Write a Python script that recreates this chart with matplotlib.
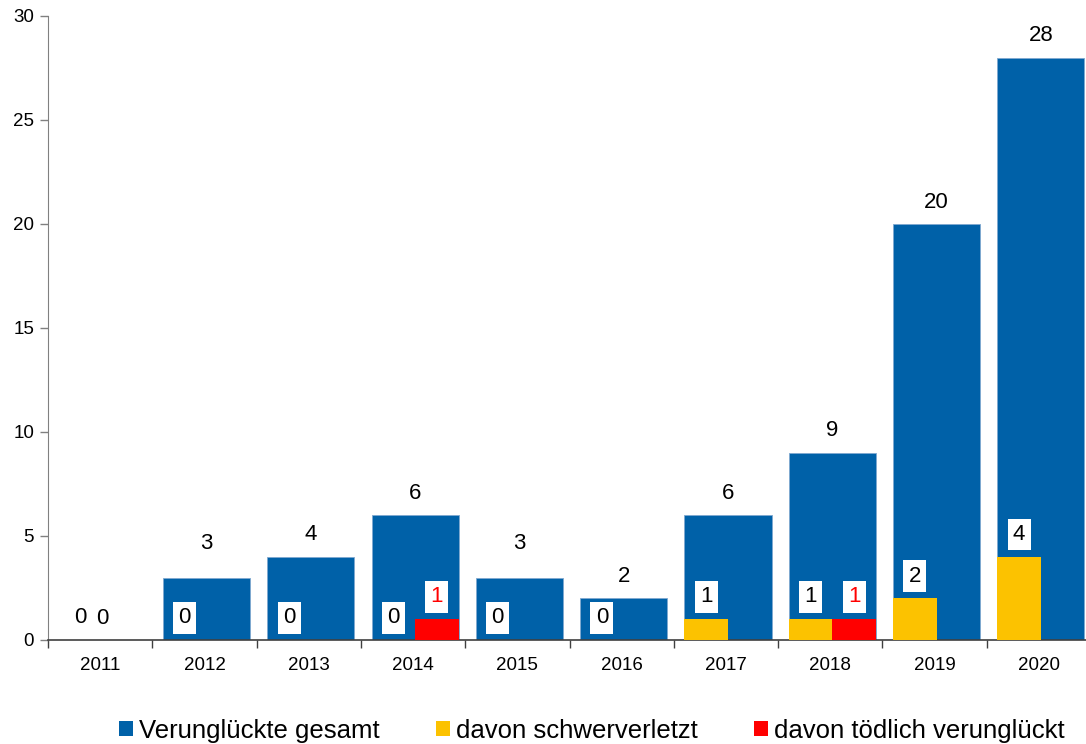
import matplotlib
matplotlib.use('Agg')
from matplotlib import pyplot as plt
from matplotlib.patches import Patch
import numpy as np

# Dados
anos = ['2011', '2012', '2013', '2014', '2015', '2016', '2017', '2018', '2019', '2020']
gesamt = [0, 3, 4, 6, 3, 2, 6, 9, 20, 28]
schwer = [0, 0, 0, 0, 0, 0, 1, 1, 2, 4]
toedlich = [0, 0, 0, 1, 0, 0, 0, 1, 0, 0]

cor_azul = '#0061A8'
cor_amarelo = '#FCC200'
cor_vermelho = '#FF0000'

# rótulos que no original foram deslocados mais para cima
rotulos_altos = ['2012', '2015']

plt.rcParams['font.family'] = ['Liberation Sans', 'DejaVu Sans']

fig = plt.figure(figsize=(10.86, 7.44), dpi=100)
ax = fig.add_axes([48 / 1086, 104 / 744, 1043 / 1086, 624 / 744])

x = np.arange(len(anos))
w = 0.835
off = 0.02

# Barras: total em azul, schwer e tödlich dentro da barra azul
ax.bar(x + off, gesamt, width=w, color=cor_azul, edgecolor='#7FA8D0', linewidth=0.6, zorder=2)
ax.bar(x + off - w / 4, schwer, width=w / 2, color=cor_amarelo, zorder=3)
ax.bar(x + off + w / 4, toedlich, width=w / 2, color=cor_vermelho, zorder=3)

caixa = dict(boxstyle='square,pad=0.24', facecolor='white', edgecolor='none')

for i in range(len(anos)):
    dy = 24.5 if anos[i] in rotulos_altos else 15.8
    ax.annotate(str(gesamt[i]), (x[i] + off, gesamt[i]), xytext=(0, dy),
                textcoords='offset points', ha='center', va='center',
                fontsize=16, color='black', zorder=5)
    ax.annotate(str(schwer[i]), (x[i] + off - w / 4, schwer[i]), xytext=(0, 16),
                textcoords='offset points', ha='center', va='center',
                fontsize=16, color='black', bbox=caixa, zorder=5)
    if toedlich[i] > 0:
        ax.annotate(str(toedlich[i]), (x[i] + off + w / 4, toedlich[i]), xytext=(0, 16),
                    textcoords='offset points', ha='center', va='center',
                    fontsize=16, color=cor_vermelho, bbox=caixa, zorder=5)

# Eixos
ax.set_xlim(-0.5, len(anos) - 0.5)
ax.set_ylim(0, 30)
ax.set_yticks([0, 5, 10, 15, 20, 25, 30])
ax.set_xticks(x)
ax.set_xticklabels(anos)
ax.set_xticks(np.arange(-0.5, len(anos), 1), minor=True)
ax.tick_params(axis='x', which='major', length=0, labelsize=13.5, pad=12)
ax.tick_params(axis='x', which='minor', length=6, width=1, color='#404040', direction='out')
ax.tick_params(axis='y', length=6, width=1, color='#808080', labelsize=13.5, pad=4)

for s in ['top', 'right']:
    ax.spines[s].set_visible(False)
ax.spines['left'].set_color('#808080')
ax.spines['bottom'].set_color('#404040')
ax.spines['bottom'].set_linewidth(1.2)

# Legenda
handles = [Patch(facecolor=cor_azul, label='Verunglückte gesamt'),
           Patch(facecolor=cor_amarelo, label='davon schwerverletzt'),
           Patch(facecolor=cor_vermelho, label='davon tödlich verunglückt')]
fig.legend(handles=handles, loc='center', bbox_to_anchor=(592 / 1086, 13 / 744), ncol=3,
           frameon=False, fontsize=18.5, handlelength=0.52, handleheight=0.52,
           handletextpad=0.25, columnspacing=2.2)

fig.savefig('out.png', dpi=100)
